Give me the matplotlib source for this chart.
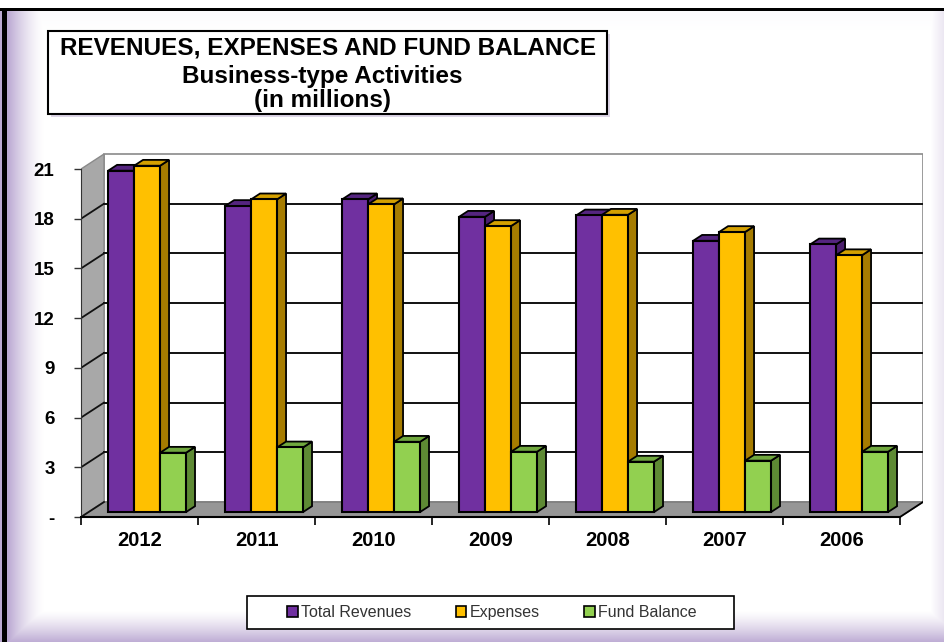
import numpy as np
import matplotlib
matplotlib.use("Agg")
import matplotlib.pyplot as plt
from matplotlib.patches import Polygon, Rectangle, Patch

years = ["2012", "2011", "2010", "2009", "2008", "2007", "2006"]
total_revenues = [20.6, 18.47, 18.87, 17.82, 17.9, 16.37, 16.15]
expenses = [20.9, 18.87, 18.57, 17.26, 17.94, 16.9, 15.5]
fund_balance = [3.58, 3.9, 4.24, 3.64, 3.04, 3.1, 3.64]
series_names = ["Total Revenues", "Expenses", "Fund Balance"]
y_ticks = [0, 3, 6, 9, 12, 15, 18, 21]
y_tick_labels = ["-", "3", "6", "9", "12", "15", "18", "21"]

# front / side / top colours per series
colors = [("#7030A0", "#4B1F6E", "#552580"),
          ("#FFC000", "#A67C00", "#D4A000"),
          ("#92D050", "#5E8A34", "#70A83E")]

plt.rcParams["font.family"] = ["Liberation Sans", "DejaVu Sans"]

W, H = 944, 642
fig = plt.figure(figsize=(W / 100, H / 100), dpi=100)

# background with lavender edge glow
bg = fig.add_axes([0, 0, 1, 1], zorder=-10)
yy = np.arange(H)[:, None].astype(float)
xx = np.arange(W)[None, :].astype(float)
fl = np.clip((44 - xx) / 36, 0, 1) ** 1.5
fb = np.clip((yy - 610) / 32, 0, 1) ** 1.3
fr = np.clip((xx - 930) / 14, 0, 1) * 0.3
ft = np.clip((30 - yy) / 20, 0, 1) * 0.05
f = np.maximum(np.maximum(fl, fb), np.maximum(fr, ft))
lav = np.array([0.74, 0.67, 0.83])
img = (1 - f[..., None]) * 1.0 + f[..., None] * lav
img[:8, :] = 1.0
img[8:11, :] = 0.0
img[8:, 2:7] = 0.0
bg.imshow(img, extent=[0, W, H, 0], aspect="auto", interpolation="nearest")
bg.set_xlim(0, W)
bg.set_ylim(H, 0)
bg.axis("off")

# title box
bg.add_patch(Rectangle((51, 34), 559, 83, facecolor="#c9bcd8", edgecolor="none", alpha=0.6))
bg.add_patch(Rectangle((48, 31), 559, 83, facecolor="white", edgecolor="black", lw=1.5))
bg.text(328, 48, "REVENUES, EXPENSES AND FUND BALANCE", ha="center", va="center",
        fontsize=17.5, fontweight="bold")
bg.text(322, 76, "Business-type Activities", ha="center", va="center",
        fontsize=17.5, fontweight="bold")
bg.text(322, 101, "(in millions)", ha="center", va="center",
        fontsize=17.5, fontweight="bold")

# legend box
bg.add_patch(Rectangle((247, 596), 487, 33, facecolor="white", edgecolor="black", lw=1.2))

# main axes: x in category units, y in millions
px_cat = 117.0
px_val = 16.57
x0_px, zero_px = 81.0, 517.0
xmax, ymin, ymax = 7.2, -0.5, 22.0
ax = fig.add_axes([x0_px / W, 1 - (zero_px - ymin * px_val) / H,
                   xmax * px_cat / W, (ymax - ymin) * px_val / H])
ax.set_xlim(0, xmax)
ax.set_ylim(ymin, ymax)
ax.patch.set_alpha(0)

n = len(years)
DX = 23 / px_cat
DY = 15 / px_val
top = y_ticks[-1]

# walls and floor
ax.add_patch(Polygon([(DX, DY), (n + DX, DY), (n + DX, top + DY), (DX, top + DY)],
                     closed=True, facecolor="white", edgecolor="#8a8a8a", lw=1.2, zorder=1))
ax.add_patch(Polygon([(0, 0), (DX, DY), (DX, top + DY), (0, top)],
                     closed=True, facecolor="#a8a8a8", edgecolor="#8a8a8a", lw=1.0, zorder=1))
ax.add_patch(Polygon([(0, 0), (n, 0), (n + DX, DY), (DX, DY)],
                     closed=True, facecolor="#969696", edgecolor="#7a7a7a", lw=1.0, zorder=1))
ax.plot([n, n + DX], [0, DY], color="black", lw=1.3, zorder=2)

for v in y_ticks[1:-1]:
    ax.plot([DX, n + DX], [v + DY, v + DY], color="#111111", lw=1.4, zorder=2)
for v in y_ticks[:-1]:
    ax.plot([0, DX], [v, v + DY], color="#111111", lw=1.3, zorder=2)

# bars
w = 0.222
d0, d1 = 0.33, 0.72
data = [total_revenues, expenses, fund_balance]
z = 3
for i in range(n):
    for j, vals in enumerate(data):
        v = vals[i]
        fc, sc, tc = colors[j]
        bx = i + 0.5 - 1.5 * w + j * w
        fx, fy = bx + d0 * DX, d0 * DY
        bxx, byy = bx + d1 * DX, d1 * DY
        ax.add_patch(Polygon([(fx + w, fy), (bxx + w, byy), (bxx + w, v + byy), (fx + w, v + fy)],
                             closed=True, facecolor=sc, edgecolor="black", lw=1.3, zorder=z))
        ax.add_patch(Polygon([(fx, v + fy), (fx + w, v + fy), (bxx + w, v + byy), (bxx, v + byy)],
                             closed=True, facecolor=tc, edgecolor="black", lw=1.3, zorder=z))
        ax.add_patch(Rectangle((fx, fy), w, v, facecolor=fc, edgecolor="black", lw=1.5, zorder=z))
        z += 1

# axes lines and ticks
for s in ["top", "right"]:
    ax.spines[s].set_visible(False)
ax.spines["left"].set_bounds(0, top)
ax.spines["left"].set_color("#333333")
ax.spines["bottom"].set_position(("data", 0))
ax.spines["bottom"].set_bounds(0, n)
ax.spines["bottom"].set_linewidth(1.5)
ax.spines["bottom"].set_zorder(50)

ax.set_yticks(y_ticks)
ax.set_yticklabels(y_tick_labels, fontsize=13.5, fontweight="bold")
ax.tick_params(axis="y", length=5, width=1, pad=14, color="#333333")

ax.set_xticks(np.arange(n) + 0.5)
ax.set_xticklabels(years, fontsize=14.5, fontweight="bold")
ax.set_xticks(np.arange(n + 1), minor=True)
ax.tick_params(axis="x", which="major", length=0, pad=10)
ax.tick_params(axis="x", which="minor", length=6, width=1.2, direction="out")

handles = [Patch(facecolor=c[0], edgecolor="black", lw=1.2) for c in colors]
fig.legend(handles, series_names, loc="center", bbox_to_anchor=(492 / W, 1 - 612.5 / H),
           ncol=3, frameon=False, fontsize=11.5, handlelength=0.65, handleheight=0.65,
           handletextpad=0.2, columnspacing=2.8, labelcolor="#333333")

fig.savefig("out.png", dpi=100)
